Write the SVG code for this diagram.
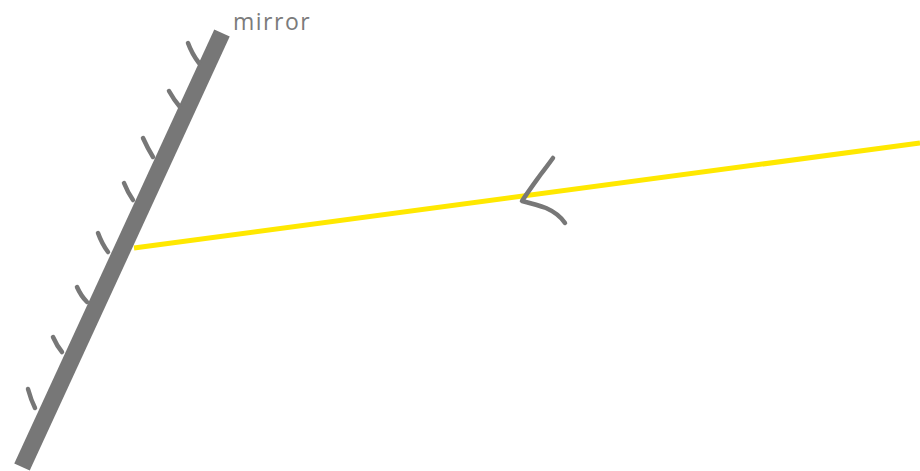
<svg xmlns="http://www.w3.org/2000/svg" width="920" height="471" viewBox="0 0 920 471">
<style>
.tick{fill:none;stroke:#777;stroke-width:4.5;stroke-linecap:round;stroke-linejoin:round}
.mirror{stroke:#777;stroke-width:17;stroke-linecap:butt}
.ray{stroke:#FFE800;stroke-width:5;stroke-linecap:butt}
.lbl{font-family:"Open Sans","DejaVu Sans",sans-serif;font-size:23px;fill:#7b7b7b;letter-spacing:1.5px}
</style>
<rect width="920" height="471" fill="#fff"/>
<g id="connectors">
<line class="ray" x1="134" y1="248" x2="920" y2="143"/>
<path class="tick" d="M553,158 C548,165 544,170 541,174 C536,181 530,189 522,201 C530,203 538,205 546,208 C555,212 561,217 565,223"/>
</g>
<g id="mirror">
<line class="mirror" x1="222" y1="33" x2="22" y2="467"/>
<path class="tick" d="M188,43 Q192,54 199,63"/>
<path class="tick" d="M169,91 Q174,100 180,107"/>
<path class="tick" d="M143,138 Q148,149 153,157"/>
<path class="tick" d="M124,183 Q128,193 133,200"/>
<path class="tick" d="M98,233 Q102,244 108,252"/>
<path class="tick" d="M77,287 Q81,296 87,302"/>
<path class="tick" d="M53,337 Q57,346 62,352"/>
<path class="tick" d="M28,389 Q31,400 35,408"/>
<text class="lbl" x="233" y="30">mirror</text>
</g>
</svg>
